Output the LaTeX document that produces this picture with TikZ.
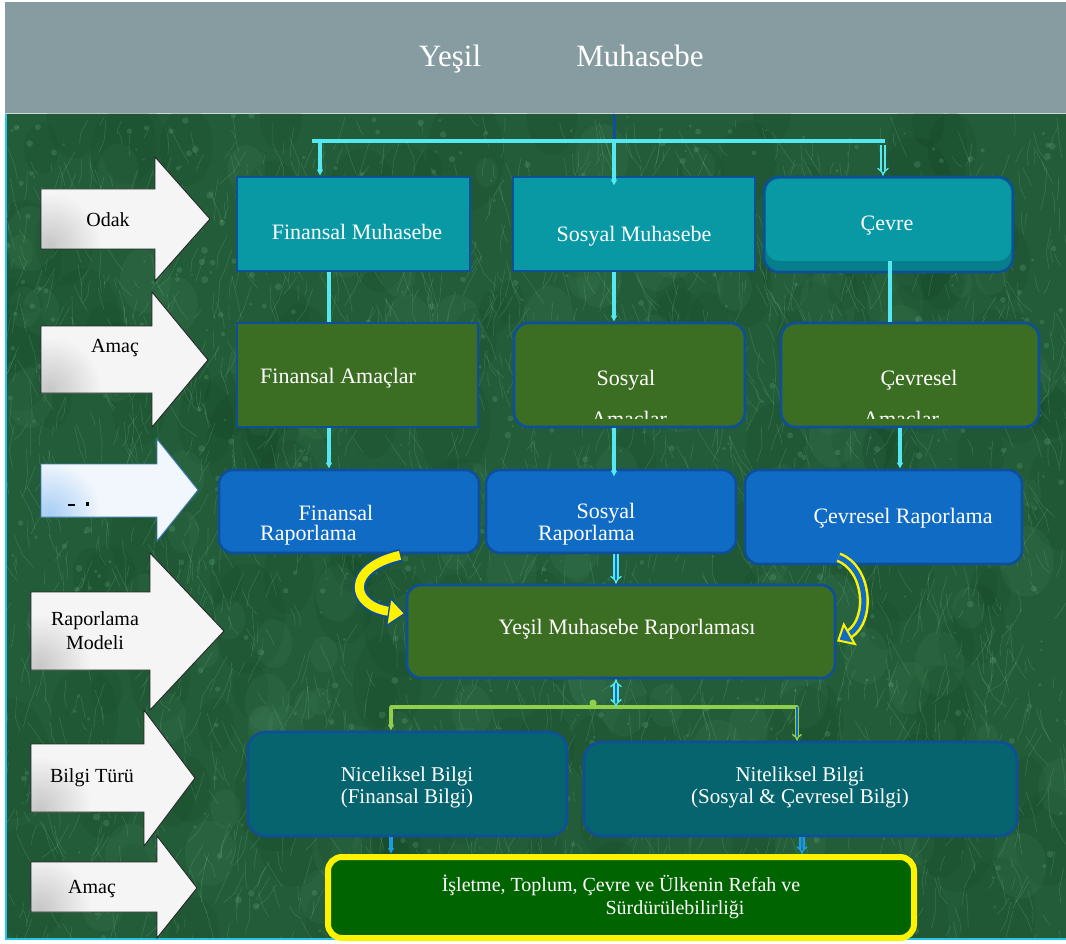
\documentclass[tikz,border=0pt]{standalone}
\usepackage{fontspec}
\setmainfont{Liberation Serif}
\usetikzlibrary{arrows.meta,calc}

\definecolor{marble}{HTML}{235C39}
\definecolor{marbleLight}{HTML}{8AD6A6}
\definecolor{marbleDark}{HTML}{0C361B}
\definecolor{titlegray}{HTML}{869CA0}
\definecolor{wire}{HTML}{55E8F2}
\definecolor{edgeblue}{HTML}{0E4F9A}
\definecolor{tealbox}{HTML}{0899A5}
\definecolor{tealshade}{HTML}{067F8A}
\definecolor{olive}{HTML}{3B6E22}
\definecolor{royal}{HTML}{106BC4}
\definecolor{deepteal}{HTML}{05646E}
\definecolor{goalgreen}{HTML}{006400}
\definecolor{lime}{HTML}{8FCF4A}
\definecolor{sky}{HTML}{1A9CE0}
\definecolor{frame}{HTML}{29C4E3}
\definecolor{paleblue}{HTML}{F2F7FD}
\definecolor{shadeblue}{HTML}{A8CEF5}
\definecolor{edgelight}{HTML}{3A7CC1}

\newcommand\gmTitle{\fontsize{31}{34}\selectfont}
\newcommand\gmBox{\fontsize{22}{22}\selectfont}
\newcommand\gmLabel{\fontsize{20}{24}\selectfont}
\newcommand\gmGoal{\fontsize{20}{25}\selectfont}

% block arrow used for the row captions on the left:
% #1 left x, #2 body top, #3 body bottom, #4 neck x, #5 head top, #6 head bottom,
% #7 tip x, #8 tip y, #9 = 0 grey variant, 1 blue variant
\newcommand\sidearrow[9]{%
  \ifnum#9=0
    \def\gmFill{white!96!black}\def\gmShade{black!22}\def\gmEdge{black!85}%
  \else
    \def\gmFill{paleblue}\def\gmShade{shadeblue}\def\gmEdge{edgelight}%
  \fi
  \fill[\gmFill] (#1,#2) -- (#4,#2) -- (#4,#5) -- (#7,#8) -- (#4,#6) -- (#4,#3) -- (#1,#3) -- cycle;
  \begin{scope}
    \clip (#1,#2) -- (#4,#2) -- (#4,#5) -- (#7,#8) -- (#4,#6) -- (#4,#3) -- (#1,#3) -- cycle;
    \shade[inner color=\gmShade, outer color=\gmFill] ($(#1,#3)+(8,-4)$) circle (52);
  \end{scope}
  \draw[\gmEdge, line width=0.9pt, line join=miter]
    (#1,#2) -- (#4,#2) -- (#4,#5) -- (#7,#8) -- (#4,#6) -- (#4,#3) -- (#1,#3) -- cycle;
}

\tikzset{
  panel/.style={draw=edgeblue, line width=2.6pt, inner sep=0pt},
  tealpanel/.style={panel, fill=tealbox},
  olivepanel/.style={panel, fill=olive},
  bluepanel/.style={panel, fill=royal, rounded corners=14pt},
  deeppanel/.style={panel, fill=deepteal, rounded corners=18pt},
  goalpanel/.style={draw=yellow, line width=6pt, fill=goalgreen, rounded corners=14pt, inner sep=0pt},
  boxtext/.style={text=white, font=\gmBox, align=center, inner sep=0pt},
  captext/.style={text=black, font=\gmLabel, align=center, inner sep=0pt},
  wireline/.style={draw=wire, line width=3.4pt},
  dropTip/.style={-{Latex[length=6pt,width=7pt]}},
  hollow/.style={draw=wire, line width=1.3pt, double=royal, double distance=2.6pt, -{Implies}},
  limeline/.style={draw=lime, line width=3.4pt, line cap=round},
}

\begin{document}
\begin{tikzpicture}[x=1pt,y=-1pt]
\useasboundingbox (0,0) rectangle (1066,944);
\fill[white] (0,0) rectangle (1066,944);

% ---------- heading bar ----------
\node[fill=titlegray, draw=none, minimum width=1061pt, minimum height=111pt, inner sep=0pt]
  (title) at (535.5,57.5) {};
\draw[white!60!titlegray, line width=1.2pt] (title.south west) -- (title.south east);
\node[text=white, font=\gmTitle, inner sep=0pt, anchor=base] (titleA) at (450,67) {Yeşil};
\node[text=white, font=\gmTitle, inner sep=0pt, anchor=base] (titleB) at (640,67) {Muhasebe};

% ---------- marble backdrop ----------
\fill[marble] (5,114) rectangle (1066,939);
\begin{scope}
  \clip (5,114) rectangle (1066,939);
  \pgfmathsetseed{2718}
  \foreach \k in {1,...,160}{
    \pgfmathsetmacro\cx{5+1061*rnd}
    \pgfmathsetmacro\cy{114+826*rnd}
    \pgfmathsetmacro\rr{14+26*rnd}
    \fill[marbleDark, opacity=0.10] (\cx,\cy) ellipse ({\rr} and {\rr*1.5});
  }
  \foreach \k in {1,...,140}{
    \pgfmathsetmacro\cx{5+1061*rnd}
    \pgfmathsetmacro\cy{114+826*rnd}
    \pgfmathsetmacro\rr{10+18*rnd}
    \fill[marbleLight, opacity=0.05] (\cx,\cy) ellipse ({\rr} and {\rr*1.3});
  }
  \foreach \k in {1,...,600}{
    \pgfmathsetmacro\cx{5+1061*rnd}
    \pgfmathsetmacro\cy{114+826*rnd}
    \pgfmathsetmacro\rr{1+2.5*rnd}
    \fill[marbleLight, opacity=0.16] (\cx,\cy) circle (\rr);
  }
  \foreach \k in {1,...,2200}{
    \pgfmathsetmacro\cx{5+1061*rnd}
    \pgfmathsetmacro\cy{114+826*rnd}
    \pgfmathsetmacro\aa{55+70*rnd}
    \pgfmathsetmacro\bb{\aa+50*rnd-25}
    \pgfmathsetmacro\ll{5+22*rnd}
    \draw[marbleLight, opacity=0.2, line width=0.6pt]
      (\cx,\cy) -- ++(\aa:\ll) -- ++(\bb:{\ll*0.7});
  }
\end{scope}
\draw[frame, line width=2.5pt] (6,114) -- (6,939) -- (1066,939);

% ---------- row captions ----------
\sidearrow{41}{189}{249}{155}{157}{281}{210}{219}{0}
\sidearrow{41}{326}{393}{152}{292}{427}{208}{360}{0}
\sidearrow{41}{464}{517}{157}{439}{541}{198}{490}{1}
\sidearrow{31}{592}{670}{150}{553}{710}{224}{631}{0}
\sidearrow{31}{744}{812}{144}{710}{846}{195}{778}{0}
\sidearrow{31}{862}{912}{157}{836}{938}{197}{888}{0}
\node[captext] (capOdak)  at (108,220) {Odak};
\node[captext] (capAmacA) at (115,348) {Amaç};
\fill[black] (68,504) rectangle (75,505.5);
\fill[black] (86,502) rectangle (89,506);
\node[captext] (capModel) at (95,631) {Raporlama\\Modeli};
\node[captext] (capBilgi) at (92,778) {Bilgi Türü};
\node[captext] (capAmacB) at (92,889) {Amaç};

% ---------- focus row ----------
\node[tealpanel, minimum width=233pt, minimum height=94pt] (fm) at (353.5,224) {};
\node[tealpanel, minimum width=242pt, minimum height=94pt] (sm) at (634,224) {};
\node[panel, fill=tealshade, rounded corners=15pt, minimum width=249pt, minimum height=95pt] (cv) at (888.5,224.5) {};
\fill[tealbox, rounded corners=13pt] (766,179) rectangle (1011,261);
\node[boxtext] (fmT) at (357,232) {Finansal Muhasebe};
\node[boxtext] (smT) at (634,236) {Sosyal Muhasebe};
\node[boxtext] (cvT) at (887,226) {Çevre};

% ---------- aims row ----------
\node[olivepanel, minimum width=241pt, minimum height=104pt] (fa) at (357.5,375) {};
\node[olivepanel, rounded corners=15pt, minimum width=231pt, minimum height=104pt] (sa) at (629.5,375) {};
\node[olivepanel, rounded corners=15pt, minimum width=258pt, minimum height=104pt] (ca) at (910,375) {};
\node[boxtext, anchor=west] (faT) at (260,378) {Finansal Amaçlar};
\node[boxtext] (saT) at (626,380) {Sosyal};
\node[boxtext] (caT) at (919,380) {Çevresel};
\begin{scope}
  \clip (500,400) rectangle (1050,418.5);
  \node[boxtext, anchor=base] (saT2) at (629,426) {Amaçlar};
  \node[boxtext, anchor=base] (caT2) at (901,426) {Amaçlar};
\end{scope}

% ---------- reporting row ----------
\node[bluepanel, minimum width=260pt, minimum height=83pt] (fr) at (349,511.5) {};
\node[bluepanel, minimum width=250pt, minimum height=83pt] (sr) at (611,511.5) {};
\node[bluepanel, minimum width=277pt, minimum height=94pt] (cr) at (883.5,517) {};
\node[boxtext] (frT) at (336,513) {Finansal};
\node[boxtext, anchor=west] (frT2) at (260,535) {Raporlama};
\node[boxtext] (srT) at (606,513) {Sosyal};
\node[boxtext, anchor=west] (srT2) at (538,535) {Raporlama};
\node[boxtext] (crT) at (903,518) {Çevresel Raporlama};

% ---------- combined report ----------
\node[olivepanel, rounded corners=14pt, minimum width=428pt, minimum height=93pt] (ym) at (621,631.5) {};
\node[boxtext] (ymT) at (627,629) {Yeşil Muhasebe Raporlaması};

% ---------- information kinds ----------
\node[deeppanel, minimum width=319pt, minimum height=104pt] (nc) at (407.5,784) {};
\node[deeppanel, minimum width=433pt, minimum height=94pt] (nt) at (800.5,789) {};
\node[boxtext, font=\fontsize{21}{22}\selectfont] (ncT) at (407,787) {Niceliksel Bilgi\\(Finansal Bilgi)};
\node[boxtext, font=\fontsize{21}{22}\selectfont] (ntT) at (800,787) {Niteliksel Bilgi\\(Sosyal \& Çevresel Bilgi)};

% ---------- final aim ----------
\node[goalpanel, minimum width=586pt, minimum height=81pt] (goal) at (621,897.5) {};
\node[text=white, font=\gmGoal, inner sep=0pt] (goalT1) at (621,885) {İşletme, Toplum, Çevre ve Ülkenin Refah ve};
\node[text=white, font=\gmGoal, inner sep=0pt] (goalT2) at (675,910) {Sürdürülebilirliği};

% ---------- connectors: heading to focus row ----------
\coordinate (hub)  at (614,141);
\coordinate (busW) at (312,141);
\coordinate (busE) at (885,141);
\coordinate (colF) at (320,141);
\coordinate (colC) at (883,145);
\draw[edgeblue, line width=3pt, {Latex[length=4pt,width=5pt]}-{Latex[length=4pt,width=5pt]}]
  (title.south -| hub) -- ($(hub)+(0,4)$);
\draw[wireline] (busW) -- (busE);
\draw[wireline, dropTip] (colF) -- (colF |- fm.north);
\draw[wireline, dropTip] (hub) -- ($(sm.north -| hub)+(0,10)$);
\draw[hollow, double=marble] (colC) -- (colC |- cv.north);

% ---------- connectors: focus to aims to reporting ----------
\coordinate (colF2) at (329,0);
\coordinate (colS)  at (614,0);
\coordinate (colC1) at (890,0);
\coordinate (colC2) at (900,0);
\draw[wireline] (fm.south -| colF2) -- (fa.north -| colF2);
\draw[wireline, dropTip] (sm.south -| colS) -- (sa.north -| colS);
\draw[wireline] ($(cv.south -| colC1)+(0,-12)$) -- (ca.north -| colC1);
\draw[wireline, dropTip] (fa.south -| colF2) -- (fr.north -| colF2);
\draw[wireline, dropTip] (sa.south -| colS) -- ($(sr.north -| colS)+(0,8)$);
\draw[wireline, dropTip] (ca.south -| colC2) -- (cr.north -| colC2);

% ---------- connectors into the combined report ----------
\coordinate (colS2) at (616,0);
\draw[hollow] (sr.south -| colS2) -- (ym.north -| colS2);

% left yellow ribbon from financial reporting
\coordinate (yL0) at ($(fr.south)+(52,1)$);
\coordinate (yL1) at ($(ym.west)+(-16,-20)$);
\draw[edgeblue, line width=13pt] (yL0) .. controls (345,568) and (350,606) .. (yL1);
\draw[yellow, line width=9pt] ($(yL0)+(-1,0)$) .. controls (345,568) and (350,606) .. (yL1);
\filldraw[fill=yellow, draw=edgeblue, line width=1.3pt, line join=miter]
  ($(yL1)+(1,-13)$) -- ($(ym.west)+(-1,-18)$) -- ($(yL1)+(-3,14)$) -- cycle;

% right ribbon from environmental reporting
\coordinate (yR0) at ($(cr.south)+(-45,-8)$);
\coordinate (yR1) at ($(ym.east)+(13,2.5)$);
\draw[yellow, line width=10pt] (yR0) .. controls (868,568) and (872,620) .. (yR1);
\draw[royal, line width=5pt] (yR0) .. controls (868,568) and (872,620) .. (yR1);
\filldraw[fill=royal, draw=yellow, line width=2pt, line join=miter]
  ($(ym.east)+(18.5,12.5)$) -- ($(ym.east)+(2,9)$) -- ($(ym.east)+(7.5,-7)$) -- cycle;

% ---------- connectors below the combined report ----------
\coordinate (lbusW) at (391,707);
\coordinate (lbusE) at (797,707);
\draw[limeline] (lbusW) -- (lbusE);
\fill[lime] (593,703) circle (3.5);
\draw[hollow, {Implies}-{Implies}] (ym.south -| colS2) -- (lbusW -| colS2);
\draw[limeline, line cap=butt, dropTip] (lbusW) -- (lbusW |- nc.north);
\draw[draw=lime, line width=1.4pt, double=royal, double distance=1.8pt, -{Implies}]
  (lbusE) -- (lbusE |- nt.north);

% ---------- connectors into the final aim ----------
\coordinate (colN) at (391,0);
\coordinate (colT) at (802,0);
\draw[sky, line width=3.5pt, dropTip] (nc.south -| colN) -- (goal.north -| colN);
\draw[draw=sky, line width=1.5pt, double=sky!80!black, double distance=2.2pt, -{Implies}]
  (nt.south -| colT) -- (goal.north -| colT);
\end{tikzpicture}
\end{document}
